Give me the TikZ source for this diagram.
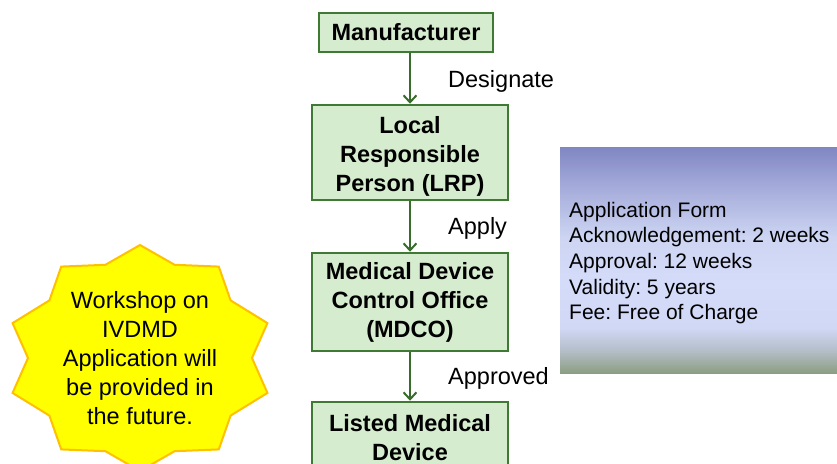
\documentclass[tikz,border=0pt]{standalone}
\usepackage{fontspec}
\setmainfont{Liberation Sans}
\usetikzlibrary{arrows.meta}
\frenchspacing

\definecolor{boxfill}{RGB}{213,236,206}
\definecolor{boxline}{RGB}{62,122,52}
\definecolor{flowarrow}{RGB}{56,108,42}
\definecolor{starfill}{RGB}{255,255,0}
\definecolor{starline}{RGB}{255,192,0}
\definecolor{ptop}{RGB}{127,134,194}
\definecolor{pupper}{RGB}{160,166,215}
\definecolor{pmid}{RGB}{205,213,243}
\definecolor{plight}{RGB}{212,220,250}
\definecolor{plow}{RGB}{208,216,245}
\definecolor{pfade}{RGB}{180,190,200}
\definecolor{pbot}{RGB}{140,158,130}

% vertical gradient of the information panel (path spans 25bp..75bp)
\pgfdeclareverticalshading{panelshade}{100bp}{%
  color(0bp)=(pbot); color(25bp)=(pbot); color(30bp)=(pfade);
  color(35bp)=(plow); color(45bp)=(plight); color(55bp)=(pmid);
  color(67.5bp)=(pupper); color(75bp)=(ptop); color(100bp)=(ptop)}

\tikzset{
  flowbox/.style={draw=boxline, fill=boxfill, line width=2.5pt,
    align=center, inner sep=0pt, font=\bfseries\fontsize{23.5}{29}\selectfont},
  flowarrow/.style={draw=flowarrow, line width=2pt,
    -{Straight Barb[length=7pt,width=13pt]}},
  steplabel/.style={anchor=base west, inner sep=0pt,
    font=\fontsize{23.5}{29}\selectfont},
  starshape/.style={draw=starline, fill=starfill, line width=2pt, line join=miter},
  startext/.style={align=center, inner sep=0pt, font=\fontsize{23.5}{29}\selectfont},
  panel/.style={shading=panelshade},
  paneltext/.style={align=left, inner sep=0pt, anchor=west,
    font=\fontsize{21}{25.7}\selectfont}
}

\begin{document}
\begin{tikzpicture}[x=1pt,y=-1pt]
\useasboundingbox (0,0) rectangle (837,463);
\clip (0,0) rectangle (837,463);

% process chain
\node[flowbox, minimum width=174pt, minimum height=39pt] (manu) at (406,32.5) {Manufacturer};
\node[flowbox, minimum width=196pt, minimum height=95pt] (lrp) at (410,152.5) {\rule{0pt}{25pt}Local\\Responsible\\Person (LRP)};
\node[flowbox, minimum width=196pt, minimum height=98pt] (mdco) at (410,302) {Medical Device\\Control Office\\(MDCO)};
\node[flowbox, minimum width=196pt, minimum height=72pt] (listed) at (410,438) {Listed Medical\\Device};

\draw[flowarrow] (manu.south -| lrp.north) -- (lrp.north);
\draw[flowarrow] (lrp.south) -- (mdco.north);
\draw[flowarrow] (mdco.south) -- (listed.north);

\node[steplabel] (designate) at (448,87) {Designate};
\node[steplabel] (apply) at (448,234) {Apply};
\node[steplabel] (approved) at (448,384) {Approved};

% information panel
\shade[panel] (560,147) rectangle (837,373);
\node[paneltext] (info) at (569,263) {Application Form\\Acknowledgement: 2 weeks\\Approval: 12 weeks\\Validity: 5 years\\Fee: Free of Charge};

% ten-point star
\begin{scope}[shift={(140,358)}]
  \draw[starshape] (90:134pt and 113pt)
    \foreach \k in {0,...,9} { -- ({108+36*\k}:112pt and 98pt) -- ({126+36*\k}:134pt and 113pt) } -- cycle;
\end{scope}
\node[startext] (workshop) at (140,358) {Workshop on\\IVDMD\\Application will\\be provided in\\the future.};
\end{tikzpicture}
\end{document}
